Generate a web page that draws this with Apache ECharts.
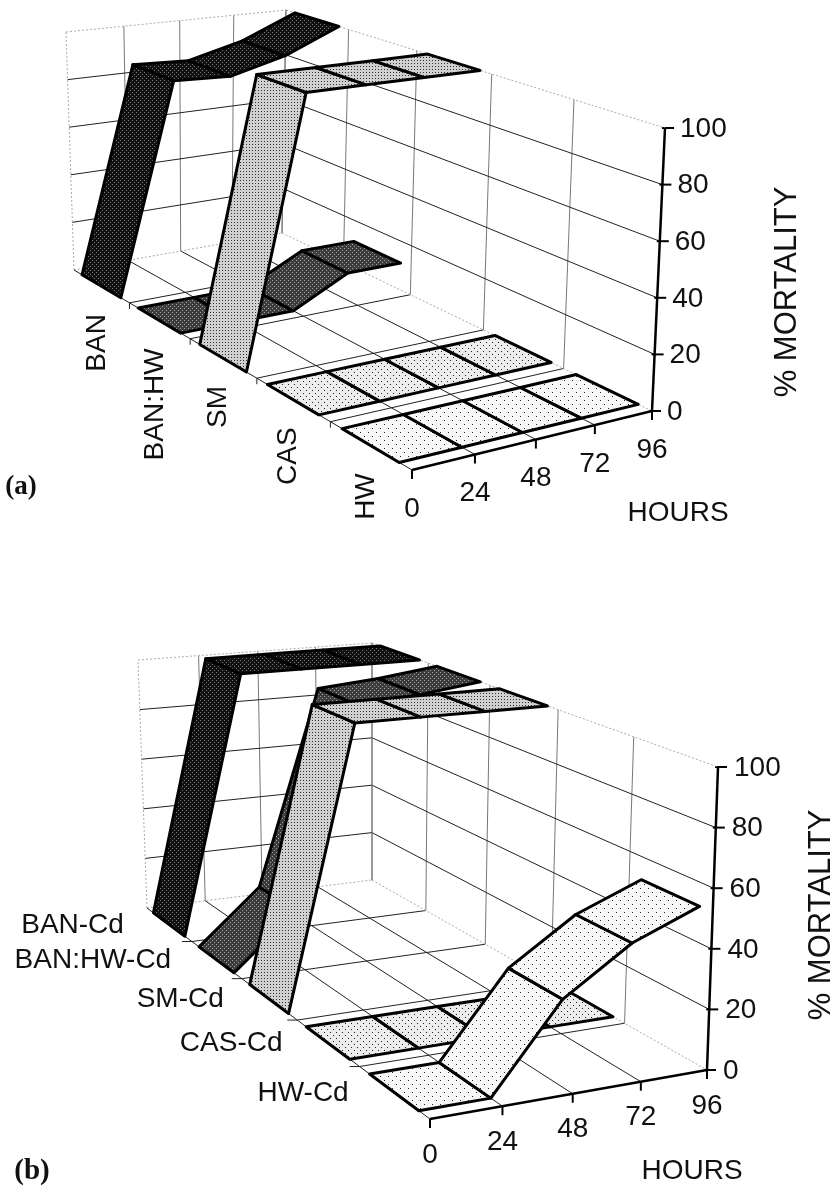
<!DOCTYPE html>
<html>
<head>
<meta charset="utf-8">
<style>
  html, body { margin: 0; padding: 0; background: #fff; }
  #main { width: 836px; height: 1188px; }
</style>
<script src="https://cdn.jsdelivr.net/npm/echarts@6/dist/echarts.min.js"></script>
</head>
<body>
<div id="main"></div>
<script>
// values
var hours = [0, 24, 48, 72, 96];
var mortalityTicks = [0, 20, 40, 60, 80, 100];

var groupsA = ['BAN', 'BAN:HW', 'SM', 'CAS', 'HW'];
var banA = [0, 85, 84, 90, 100];
var banHwA = [0, 0, 0, 11, 11];
var smA = [0, 100, 100, 100, 100];
var casA = [0, 0, 0, 0, 0];
var hwA = [0, 0, 0, 0, 0];

var groupsB = ['BAN-Cd', 'BAN:HW-Cd', 'SM-Cd', 'CAS-Cd', 'HW-Cd'];
var banB = [0, 100, 100, 100, 100];
var banHwB = [0, 20, 95, 97, 100];
var smB = [0, 100, 100, 100, 100];
var casB = [0, 0, 0, 0, 0];
var hwB = [0, 0, 28, 43, 52];

var FONT = '"Liberation Sans", Arial, sans-serif';

// box corners on the page: b = back, f = front, l = left (0 h), r = right (96 h)
var boxA = {
  floor: { bl: [74, 270], br: [282, 233], fl: [412, 470], fr: [652, 411] },
  top: { bl: [66, 32], br: [286, 10], fl: [416, 167], fr: [665, 128] }
};
var boxB = {
  floor: { bl: [147, 908], br: [372, 880], fl: [430, 1119], fr: [707, 1070] },
  top: { bl: [138, 660], br: [372, 643], fl: [434, 797], fr: [718, 767] }
};

// unit square -> quad, gives the perspective of the floor and the lid
function homography(q) {
  var dx1 = q.br[0] - q.fr[0], dx2 = q.fl[0] - q.fr[0];
  var sx = q.bl[0] - q.br[0] + q.fr[0] - q.fl[0];
  var dy1 = q.br[1] - q.fr[1], dy2 = q.fl[1] - q.fr[1];
  var sy = q.bl[1] - q.br[1] + q.fr[1] - q.fl[1];
  var den = dx1 * dy2 - dx2 * dy1;
  var g = (sx * dy2 - dx2 * sy) / den;
  var k = (dx1 * sy - sx * dy1) / den;
  return function (u, v) {
    var w = 1 + g * u + k * v;
    return [
      (q.bl[0] + (q.br[0] - q.bl[0] + g * q.br[0]) * u + (q.fl[0] - q.bl[0] + k * q.fl[0]) * v) / w,
      (q.bl[1] + (q.br[1] - q.bl[1] + g * q.br[1]) * u + (q.fl[1] - q.bl[1] + k * q.fl[1]) * v) / w
    ];
  };
}

// hour, depth 0..1, mortality -> page position
function makeProject(box) {
  var f = homography(box.floor), t = homography(box.top);
  return function (hour, depth, mort) {
    var u = hour / 96, m = mort / 100;
    var a = f(u, depth), b = t(u, depth);
    return [a[0] + (b[0] - a[0]) * m, a[1] + (b[1] - a[1]) * m];
  };
}

// halftone fills
function tile(size, bg, dot, pts) {
  var c = document.createElement('canvas');
  c.width = c.height = size;
  var g = c.getContext('2d');
  g.fillStyle = bg;
  g.fillRect(0, 0, size, size);
  g.fillStyle = dot;
  pts.forEach(function (p) { g.fillRect(p[0], p[1], 1, 1); });
  return { image: c, repeat: 'repeat' };
}
var fills = [
  tile(4, '#111111', '#777777', [[0, 0], [2, 2]]),
  tile(4, '#3c3c3c', '#a0a0a0', [[0, 0], [2, 2]]),
  tile(3, '#d0d0d0', '#333333', [[0, 0]]),
  tile(6, '#ececec', '#222222', [[0, 0], [3, 3]]),
  tile(8, '#f8f8f8', '#222222', [[0, 0], [4, 4]])
];

function line(api, a, b, st) {
  var p = api.coord(a), q = api.coord(b);
  return { type: 'line', shape: { x1: p[0], y1: p[1], x2: q[0], y2: q[1] }, style: st };
}

function text(api, pos, str, size, align, rot) {
  var p = api.coord(pos);
  return {
    type: 'text', x: p[0], y: p[1], rotation: rot || 0,
    style: { text: str, font: size + 'px ' + FONT, fill: '#111', textAlign: align, textVerticalAlign: 'middle' }
  };
}

// walls, floor grid and axes
function frameSeries(box, groups, opts) {
  var pr = makeProject(box);
  var thin = { stroke: '#222', lineWidth: 1 };
  var grey = { stroke: '#777', lineWidth: 1 };
  var faint = { stroke: '#aaa', lineWidth: 1, lineDash: [2, 2] };
  var heavy = { stroke: '#000', lineWidth: 2.5 };
  return {
    type: 'custom', coordinateSystem: 'cartesian2d', silent: true, clip: false, z: 1,
    data: [[0]],
    renderItem: function (params, api) {
      var ch = [];
      var n = groups.length;
      hours.forEach(function (h, i) {
        if (i > 0) ch.push(line(api, pr(h, 0, 0), pr(h, 0, 100), grey));
        if (i > 0 && i < hours.length - 1) ch.push(line(api, pr(h, 0, 0), pr(h, 1, 0), thin));
      });
      for (var d = 1; d < n; d++) {
        ch.push(line(api, pr(0, d / n, 0), pr(96, d / n, 0), thin));
        ch.push(line(api, pr(96, d / n, 0), pr(96, d / n, 100), grey));
      }
      mortalityTicks.forEach(function (m) {
        if (m > 0 && m < 100) {
          ch.push(line(api, pr(0, 0, m), pr(96, 0, m), thin));
          ch.push(line(api, pr(96, 0, m), pr(96, 1, m), thin));
        }
        var p = pr(96, 1, m);
        ch.push(line(api, [p[0] - 3, p[1]], [p[0] + 9, p[1]], { stroke: '#000', lineWidth: 2 }));
        ch.push(text(api, [p[0] + opts.yLabelGap, p[1] + 1], String(m), 28, 'left'));
      });
      ch.push(line(api, pr(0, 0, 0), pr(0, 0, 100), faint));
      ch.push(line(api, pr(0, 0, 100), pr(96, 0, 100), faint));
      ch.push(line(api, pr(96, 0, 100), pr(96, 1, 100), faint));
      ch.push(line(api, pr(0, 0, 0), pr(96, 0, 0), faint));
      ch.push(line(api, pr(96, 0, 0), pr(96, 1, 0), faint));
      ch.push(line(api, pr(96, 0, 0), pr(96, 0, 100), grey));
      ch.push(line(api, pr(0, 0, 0), pr(0, 1, 0), thin));
      // category ticks and labels
      for (d = 0; d <= n; d++) {
        var t = pr(0, d / n, 0);
        if (d > 0 && d < n) {
          ch.push(line(api, t, [t[0] + opts.catTick[0], t[1] + opts.catTick[1]], thin));
        }
        if (d < n) {
          var mid = pr(0, (d + 0.5) / n, 0);
          if (opts.rotated) {
            ch.push(text(api, [mid[0] + opts.catOff[0], mid[1] + opts.catOff[1]], groups[d], 28, 'right', Math.PI / 2));
          } else {
            ch.push(text(api, [mid[0] + opts.catOff[0], mid[1] + opts.catOff[1]], groups[d], 28, 'right'));
          }
        }
      }
      // hours axis
      ch.push(line(api, pr(96, 1, 0), pr(96, 1, 100), heavy));
      ch.push(line(api, pr(0, 1, 0), pr(96, 1, 0), heavy));
      hours.forEach(function (h) {
        var p = pr(h, 1, 0);
        ch.push(line(api, p, [p[0], p[1] + 9], { stroke: '#000', lineWidth: 2 }));
        ch.push(text(api, [p[0], p[1] + opts.hourGap], String(h), 28, 'center'));
      });
      return { type: 'group', children: ch };
    }
  };
}

// one ribbon: a quad per interval, from the library's coordinate system
function ribbonSeries(box, name, values, idx, z) {
  var pr = makeProject(box);
  var d0 = (idx + 0.15) / 5, d1 = (idx + 0.85) / 5;
  var data = [];
  for (var i = 0; i < values.length - 1; i++) data.push([i]);
  return {
    type: 'custom', name: name, coordinateSystem: 'cartesian2d', silent: true, clip: false,
    z: z,
    data: data,
    renderItem: function (params, api) {
      var k = api.value(0);
      var pts = [
        pr(hours[k], d0, values[k]),
        pr(hours[k + 1], d0, values[k + 1]),
        pr(hours[k + 1], d1, values[k + 1]),
        pr(hours[k], d1, values[k])
      ].map(function (p) { return api.coord(p); });
      return {
        type: 'polygon',
        shape: { points: pts },
        style: { fill: fills[idx], stroke: '#000', lineWidth: 3, lineJoin: 'round' }
      };
    }
  };
}

function pageText(str, x, y, font, rot) {
  return {
    type: 'text', x: x, y: y, rotation: rot || 0, silent: true,
    style: { text: str, font: font, fill: '#111', textAlign: 'center', textVerticalAlign: 'middle' }
  };
}

var seriesList = [
  frameSeries(boxA, groupsA, { rotated: true, catOff: [-4, 28], catTick: [0, 6], yLabelGap: 15, hourGap: 39 }),
  frameSeries(boxB, groupsB, { rotated: false, catOff: [-45, 1], catTick: [-10, 0], yLabelGap: 16, hourGap: 36 })
];
[banA, banHwA, smA, casA, hwA].forEach(function (v, i) {
  seriesList.push(ribbonSeries(boxA, groupsA[i], v, i, 2 + i));
});
[banB, banHwB, smB, casB, hwB].forEach(function (v, i) {
  seriesList.push(ribbonSeries(boxB, groupsB[i], v, i, 2 + i));
});

var chart = echarts.init(document.getElementById('main'), null, { renderer: 'canvas', width: 836, height: 1188 });
chart.setOption({
  animation: false,
  backgroundColor: '#fff',
  grid: { left: 0, right: 0, top: 0, bottom: 0 },
  xAxis: { type: 'value', min: 0, max: 836, show: false },
  yAxis: { type: 'value', min: 0, max: 1188, inverse: true, show: false },
  graphic: [
    pageText('% MORTALITY', 787, 292, '31px ' + FONT, Math.PI / 2),
    pageText('% MORTALITY', 821, 915, '31px ' + FONT, Math.PI / 2),
    pageText('HOURS', 678, 513, '28px ' + FONT),
    pageText('HOURS', 692, 1171, '28px ' + FONT),
    pageText('(a)', 21, 487, 'bold 27px "Liberation Serif", serif'),
    pageText('(b)', 32, 1172, 'bold 29px "Liberation Serif", serif')
  ],
  series: seriesList
});
</script>
</body>
</html>
